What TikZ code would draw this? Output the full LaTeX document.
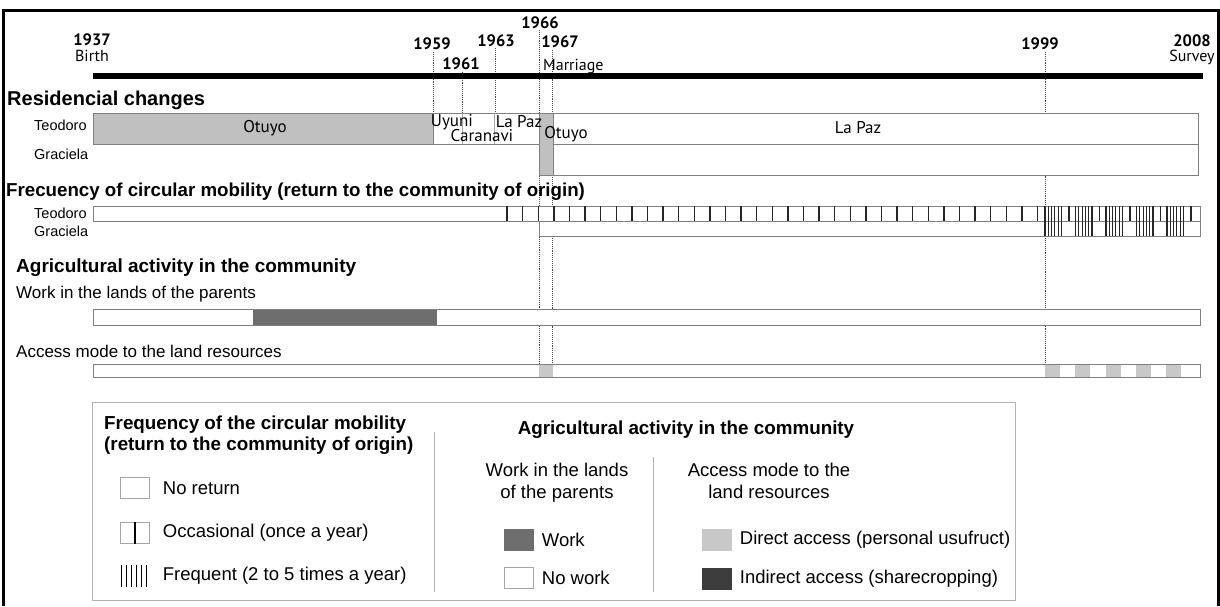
\documentclass[tikz,border=0pt]{standalone}
\usepackage{fontspec}
\setmainfont{Liberation Sans}
\newfontfamily\yearfont{PT Sans}
\usetikzlibrary{positioning}
\definecolor{otuyogray}{HTML}{C0C0C0}
\definecolor{workgray}{HTML}{6E6E6E}
\definecolor{accessgray}{HTML}{C8C8C8}
\definecolor{indirectgray}{HTML}{3C3C3C}
\definecolor{linegray}{HTML}{808080}
\tikzstyle{year} = [font=\yearfont\bfseries\fontsize{16.5}{16.5}\selectfont, inner sep=0pt]
\tikzstyle{event} = [font=\yearfont\fontsize{16}{16}\selectfont, inner sep=0pt]
\tikzstyle{place} = [font=\yearfont\fontsize{17}{17}\selectfont, inner sep=0pt]
\tikzstyle{person} = [font=\fontsize{14.5}{14.5}\selectfont, inner sep=0pt, anchor=west]
\tikzstyle{section} = [font=\bfseries\fontsize{19}{19}\selectfont, inner sep=0pt, anchor=west]
\tikzstyle{subsection} = [font=\fontsize{17}{17}\selectfont, inner sep=0pt, anchor=west]
\tikzstyle{bar} = [draw=linegray, line width=0.9pt, fill=white]
\tikzstyle{guide} = [densely dotted, line width=0.9pt, black!70]
\tikzstyle{tick} = [line width=1.4pt, black!85]
\tikzstyle{legtitle} = [font=\bfseries\fontsize{18.8}{21}\selectfont, inner sep=0pt]
\tikzstyle{legsub} = [font=\fontsize{18.5}{22}\selectfont, inner sep=0pt, align=center]
\tikzstyle{legtext} = [font=\fontsize{18.5}{21}\selectfont, inner sep=0pt]
\tikzstyle{swatch} = [draw=linegray!70, minimum width=29pt, minimum height=21pt, inner sep=0pt]

\begin{document}
\begin{tikzpicture}[x=1pt, y=-1pt, node distance=45pt]
\useasboundingbox (0,0) rectangle (1220,606);

% frame
\draw[line width=3pt] (3,606) -- (3,10) -- (1218,10) -- (1218,606);

% dotted guides
\draw[guide] (433,52) -- (433,113);
\draw[guide] (462,72) -- (462,113);
\draw[guide] (495,48) -- (495,113);
\draw[guide] (539,30) -- (539,364);
\draw[guide] (552,50) -- (552,364);
\draw[guide] (1045,52) -- (1045,364);

% time line
\draw[line width=6pt] (93,76) -- (1203,76);
\node[year] (y1937) at (92,40) {1937};
\node[event, below of=y1937, node distance=16pt] (birth) {Birth};
\node[year] (y1959) at (432,44) {1959};
\node[year] (y1961) at (461,64) {1961};
\node[year] (y1963) at (496,41) {1963};
\node[year] (y1966) at (540,23) {1966};
\node[year] (y1967) at (560,42) {1967};
\node[event, anchor=west] (marriage) at (543,67) {Marriage};
\node[year] (y1999) at (1040,44) {1999};
\node[year] (y2008) at (1192,41) {2008};
\node[event, below of=y2008, node distance=16pt] (survey) {Survey};

% residencial changes
\node[section, font=\bfseries\fontsize{20}{20}\selectfont] (resid) at (7,100) {Residencial changes};
\node[person] (teores) at (34,125) {Teodoro};
\node[person] (grares) at (34,154) {Graciela};
\draw[bar, fill=otuyogray] (93,113) rectangle (433,144);
\draw[bar] (433,113) rectangle (1198,144);
\draw[bar] (539,144) rectangle (1198,175);
\draw[bar, fill=otuyogray] (539,113) rectangle (553,175);
\draw[linegray!70, line width=0.8pt] (462,113) -- (462,144) (494,113) -- (494,144);
\node[place] (otuyo1) at (265,128) {Otuyo};
\node[place] (uyuni) at (452,122) {Uyuni};
\node[place] (caranavi) at (482,136) {Caranavi};
\node[place] (lapaz1) at (519,122) {La Paz};
\node[place] (otuyo2) at (566,134) {Otuyo};
\node[place] (lapaz2) at (858,128) {La Paz};

% circular mobility
\node[section, font=\bfseries\fontsize{18.7}{18.7}\selectfont] (freq) at (6,192) {Frecuency of circular mobility (return to the community of origin)};
\node[person] (teofreq) at (34,213) {Teodoro};
\node[person] (grafreq) at (34,231) {Graciela};
\draw[bar] (93,206) rectangle (1200,221);
\draw[bar] (539,221) rectangle (1200,236);
\foreach \i in {0,...,34}
  \draw[tick] ({507+15.6*\i},206) -- ++(0,15);
\foreach \c in {1045,1075.5,1106,1136.5,1167}
  \foreach \j in {0,...,5}
    \draw[tick, line width=1.1pt] ({\c+3.3*\j},206) -- ++(0,30);
\foreach \s in {1069,1099.5,1130,1160.5,1191}
  \draw[tick] (\s,206) -- ++(0,15);

% agricultural activity
\node[section] (agri) at (16,268) {Agricultural activity in the community};
\node[subsection] (worklands) at (16,294) {Work in the lands of the parents};
\draw[bar] (93,309) rectangle (1200,325);
\fill[workgray] (253,309.5) rectangle (437,324.5);
\node[subsection] (accessmode) at (16,351) {Access mode to the land resources};
\draw[bar] (93,364) rectangle (1200,377);
\fill[accessgray] (539,364.5) rectangle (553,376.5);
\foreach \k in {0,...,4}
  \fill[accessgray] ({1045+30.3*\k},364.5) rectangle ++(15,12);

% legend
\draw[linegray!60, line width=1pt] (92,402) rectangle (1015,600);
\node[legtitle, align=left, anchor=west] (legfreq) at (104,435) {Frequency of the circular mobility\\(return to the community of origin)};
\draw[linegray!60, line width=1pt] (434,432) -- (434,592);
\node[swatch] (noret) at (135,488) {};
\node[swatch, below of=noret, node distance=45pt] (occas) {};
\node[minimum width=29pt, minimum height=21pt, inner sep=0pt, below of=occas, node distance=43pt] (frequ) {};
\draw[line width=1.3pt] (occas.north) -- (occas.south);
\foreach \j in {0,...,5}
  \draw[line width=1pt] ([xshift=\j*5pt+1pt]frequ.south west) -- ([xshift=\j*5pt+1pt]frequ.north west);
\node[legtext, right=13pt of noret] (noretlab) {No return};
\node[legtext, right=13pt of occas] (occaslab) {Occasional (once a year)};
\node[legtext, right=13pt of frequ] (frequlab) {Frequent (2 to 5 times a year)};

\node[legtitle] (legagri) at (686,430) {Agricultural activity in the community};
\node[legsub] (legwork) at (557,483) {Work in the lands\\of the parents};
\draw[linegray!60, line width=1pt] (653,457) -- (653,592);
\node[swatch, fill=workgray, draw=workgray] (swork) at (519,540) {};
\node[swatch, below of=swork, node distance=38pt] (snowork) {};
\node[legtext, right=8pt of swork] (worklab) {Work};
\node[legtext, right=8pt of snowork] (noworklab) {No work};

\node[legsub] (legaccess) at (769,481) {Access mode to the\\land resources};
\node[swatch, fill=accessgray, draw=accessgray] (sdirect) at (717,540) {};
\node[swatch, fill=indirectgray, draw=indirectgray, below of=sdirect, node distance=39pt] (sindirect) {};
\node[legtext, right=8pt of sdirect] (directlab) {Direct access (personal usufruct)};
\node[legtext, right=8pt of sindirect] (indirectlab) {Indirect access (sharecropping)};
\end{tikzpicture}
\end{document}
